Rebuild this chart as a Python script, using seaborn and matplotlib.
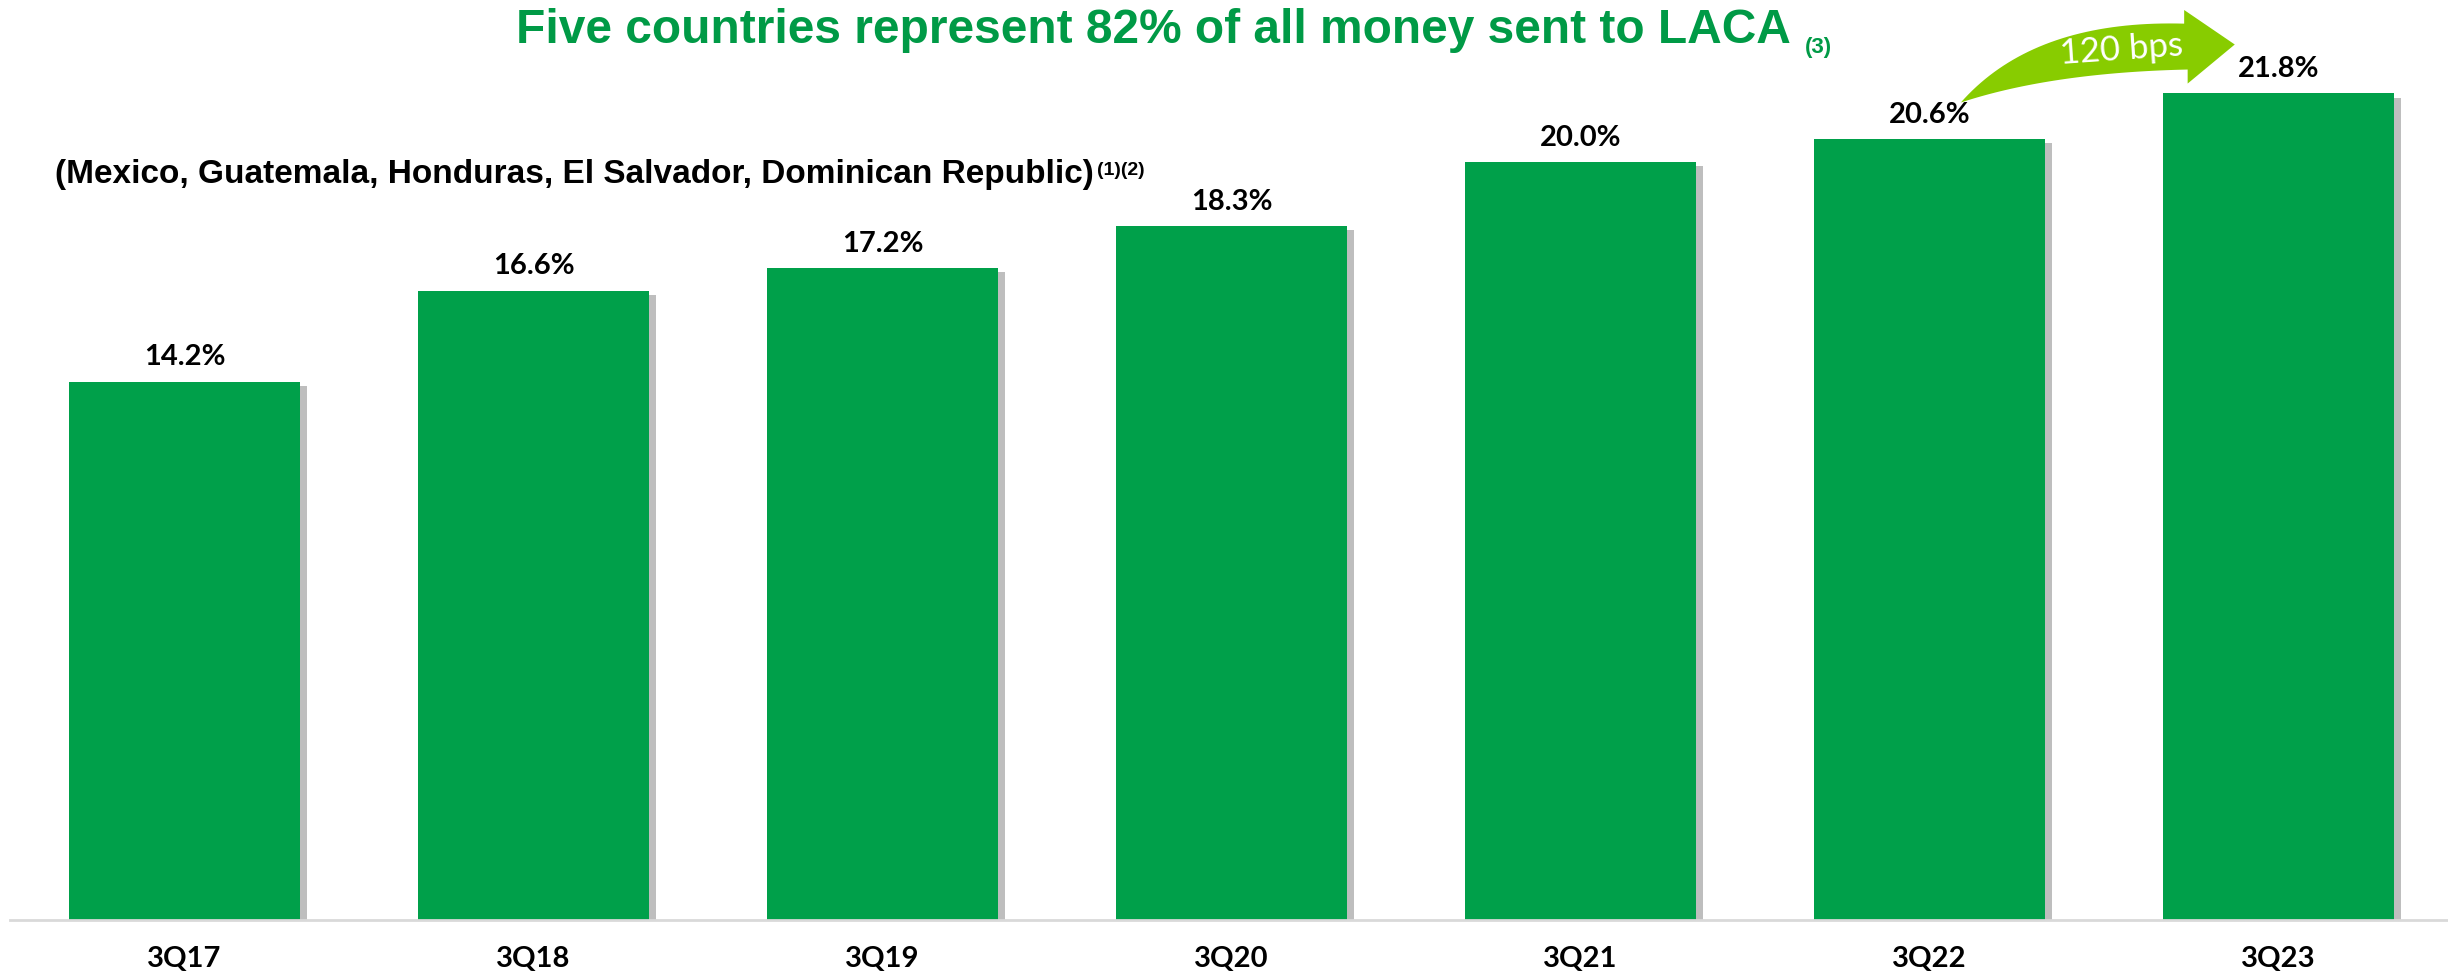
import matplotlib
matplotlib.use("Agg")
import matplotlib.pyplot as plt
import matplotlib.patheffects as pe
from matplotlib.path import Path
from matplotlib.patches import PathPatch
import numpy as np
import pandas as pd
import seaborn as sns

# ---- data ----
quarters = ["3Q17", "3Q18", "3Q19", "3Q20", "3Q21", "3Q22", "3Q23"]
shares = [14.2, 16.6, 17.2, 18.3, 20.0, 20.6, 21.8]
title_text = "Five countries represent 82% of all money sent to LACA"
title_note = "(3)"
subtitle_text = "(Mexico, Guatemala, Honduras, El Salvador, Dominican Republic)"
subtitle_note = "(1)(2)"
arrow_label = "120 bps"

BAR_GREEN = "#00A04A"
TITLE_GREEN = "#009A46"
ARROW_GREEN = "#88CC00"

sns.set_theme(style="white")
plt.rcParams["font.family"] = ["Lato", "DejaVu Sans"]

df = pd.DataFrame({"quarter": quarters, "share": shares})

fig = plt.figure(figsize=(24.48, 9.76), dpi=100)
ax = fig.add_axes([10 / 2448, 56 / 976, 1 - 10 / 2448, 910 / 976])

sns.barplot(data=df, x="quarter", y="share", color=BAR_GREEN, saturation=1,
            width=0.662, ax=ax, errorbar=None)

for p in ax.patches:
    p.set_path_effects([pe.SimplePatchShadow(offset=(5, -3), shadow_rgbFace="#7f7f7f", alpha=0.5),
                        pe.Normal()])
    p.set_linewidth(0)

ax.bar_label(ax.containers[0], labels=[f"{v:.1f}%" for v in shares], padding=8,
             fontsize=21, fontweight="bold", color="black", family=["Lato", "DejaVu Sans"])

ax.set_xlim(-0.5, 6.486)
ax.set_ylim(0, 24)
ax.set_xlabel("")
ax.set_ylabel("")
ax.set_yticks([])
for s in ["top", "left", "right"]:
    ax.spines[s].set_visible(False)
ax.spines["bottom"].set_color("#D9D9D9")
ax.spines["bottom"].set_linewidth(2)
ax.tick_params(axis="x", length=0, pad=19)
for lab in ax.get_xticklabels():
    lab.set_fontsize(21)
    lab.set_fontweight("bold")
    lab.set_color("black")

# ---- curved arrow between 3Q22 and 3Q23 ----
def qbez(p0, c, p2, n=40):
    t = np.linspace(0, 1, n)[:, None]
    p0, c, p2 = map(np.asarray, (p0, c, p2))
    return (1 - t) ** 2 * p0 + 2 * (1 - t) * t * c + t ** 2 * p2

tail = (5.09, 21.56)
top = qbez(tail, (5.30, 23.75), (5.73, 23.64))
bot = qbez(tail, (5.35, 22.35), (5.74, 22.43))
head = [(5.73, 24.0), (5.875, 23.09), (5.74, 22.06)]
verts = list(map(tuple, top)) + head + list(map(tuple, bot[::-1]))
verts.append(verts[0])
codes = [Path.MOVETO] + [Path.LINETO] * (len(verts) - 2) + [Path.CLOSEPOLY]
ax.add_patch(PathPatch(Path(verts, codes), facecolor=ARROW_GREEN, edgecolor="none",
                       clip_on=False, zorder=5))
ax.text(5.55, 22.95, arrow_label, color="white", fontsize=25, fontweight="normal",
        ha="center", va="center", rotation=4, zorder=6, family=["Lato", "DejaVu Sans"])

# ---- titles ----
t = fig.text(516 / 2448, 1 - 43 / 976, title_text, color=TITLE_GREEN, fontsize=34.5,
             fontweight="bold", ha="left", va="baseline",
             family=["Liberation Sans", "DejaVu Sans"])
ax.annotate(title_note, xy=(1, 0), xycoords=t, xytext=(10, 0), textcoords="offset points",
            color=TITLE_GREEN, fontsize=16, fontweight="bold", ha="left", va="baseline",
            family=["Liberation Sans", "DejaVu Sans"], annotation_clip=False)

s = fig.text(55 / 2448, 1 - 183 / 976, subtitle_text, color="black", fontsize=24,
             fontweight="bold", ha="left", va="baseline",
             family=["Liberation Sans Narrow", "Liberation Sans", "DejaVu Sans"])
ax.annotate(subtitle_note, xy=(1, 0), xycoords=s, xytext=(2, 11), textcoords="offset points",
            color="black", fontsize=14, fontweight="bold", ha="left", va="baseline",
            family=["Liberation Sans Narrow", "Liberation Sans", "DejaVu Sans"],
            annotation_clip=False)

fig.savefig("out.png", dpi=100)
